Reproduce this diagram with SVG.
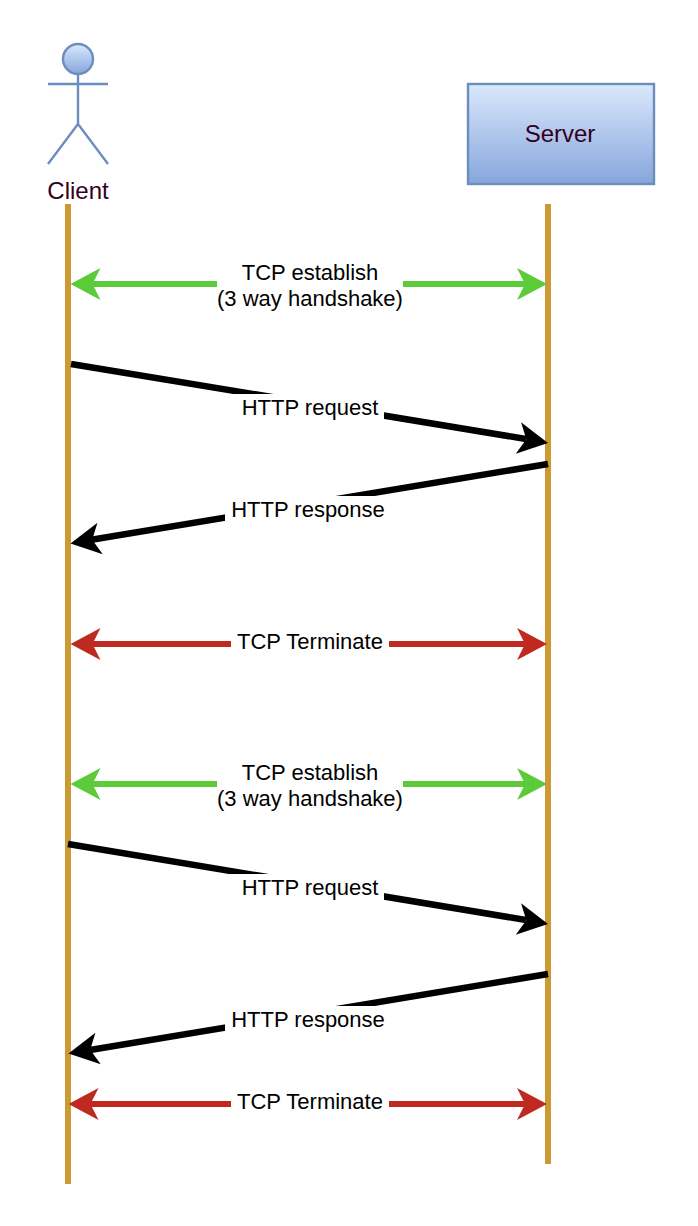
<svg xmlns="http://www.w3.org/2000/svg" width="698" height="1226" viewBox="0 0 698 1226">
<style>
text{font-family:"Liberation Sans",Arial,sans-serif;font-size:22px;text-anchor:middle;fill:#000}
.n{fill:#33001a;font-size:24px}
.life{stroke:#cc9933;stroke-width:6;fill:none}
.shape{stroke:#6c8ebf;stroke-width:2.4}
.actor{fill:none;stroke:#6c8ebf;stroke-width:2.4}
.g,.r,.b{fill:none;stroke-width:6}
.b{stroke-width:6.5}
.g{stroke:#5bcb3a}.r{stroke:#bf2a20}.b{stroke:#000}
.hg{fill:#5bcb3a}.hr{fill:#bf2a20}.hb{fill:#000}
.lbl{fill:#fff;stroke:none}
</style>
<defs>
<linearGradient id="fill" x1="0" y1="0" x2="0" y2="1"><stop offset="0" stop-color="#dae8fc"/><stop offset="1" stop-color="#86a6dc"/></linearGradient>
<polygon id="head" points="0,0 -30,-16 -22,0 -30,16"/>
</defs>
<g id="client"><circle cx="78" cy="59" r="15" fill="url(#fill)" class="shape"/><path class="actor" d="M78 74V124M48 84H108M78 124L48 164M78 124L108 164"/><text class="n" x="78" y="199">Client</text></g>
<g id="server"><rect x="468" y="84" width="186" height="100" fill="url(#fill)" class="shape"/><text class="n" x="560" y="142">Server</text></g>
<g id="connectors">
<path class="life" d="M68 204V1184"/>
<path class="life" d="M548 204V1164"/>
<path class="g" d="M90 284H526"/><use href="#head" class="hg" transform="translate(70.5 284) rotate(180)"/><use href="#head" class="hg" transform="translate(547 284)"/>
<path class="b" d="M71 364L526 439"/><use href="#head" class="hb" transform="translate(548 443) rotate(9.5)"/>
<path class="b" d="M548 464L90 540"/><use href="#head" class="hb" transform="translate(70.5 543.5) rotate(170.5)"/>
<path class="r" d="M90 644H526"/><use href="#head" class="hr" transform="translate(70.5 644) rotate(180)"/><use href="#head" class="hr" transform="translate(547 644)"/>
<path class="g" d="M90 784H526"/><use href="#head" class="hg" transform="translate(70.5 784) rotate(180)"/><use href="#head" class="hg" transform="translate(547 784)"/>
<path class="b" d="M68 844L526 920"/><use href="#head" class="hb" transform="translate(548 924) rotate(9.5)"/>
<path class="b" d="M548 974L90 1050"/><use href="#head" class="hb" transform="translate(68.5 1053.5) rotate(170.5)"/>
<path class="r" d="M90 1104H526"/><use href="#head" class="hr" transform="translate(68.5 1104) rotate(180)"/><use href="#head" class="hr" transform="translate(547 1104)"/>
<rect class="lbl" x="217" y="259" width="186" height="52"/>
<text x="310" y="280">TCP establish</text><text x="310" y="306">(3 way handshake)</text>
<rect class="lbl" x="225" y="394" width="159" height="29"/><text x="310" y="415">HTTP request</text>
<rect class="lbl" x="225" y="496" width="166" height="28"/><text x="308" y="517">HTTP response</text>
<rect class="lbl" x="231" y="628" width="158" height="30"/><text x="310" y="649">TCP Terminate</text>
<rect class="lbl" x="217" y="759" width="186" height="52"/>
<text x="310" y="780">TCP establish</text><text x="310" y="806">(3 way handshake)</text>
<rect class="lbl" x="225" y="874" width="159" height="29"/><text x="310" y="895">HTTP request</text>
<rect class="lbl" x="225" y="1006" width="166" height="28"/><text x="308" y="1027">HTTP response</text>
<rect class="lbl" x="231" y="1088" width="158" height="30"/><text x="310" y="1109">TCP Terminate</text>
</g>
</svg>
